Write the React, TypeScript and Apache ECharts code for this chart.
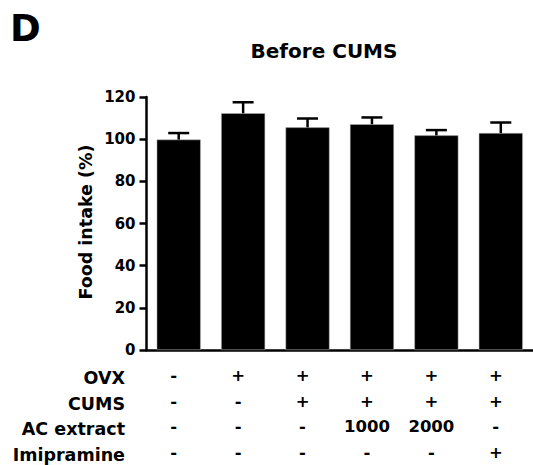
import React, { useEffect, useRef } from "react";
import * as echarts from "echarts";

const groups = ["G1", "G2", "G3", "G4", "G5", "G6"];
const means = [99.8, 112.3, 105.6, 107.1, 101.8, 102.9];
const sems = [3.1, 5.2, 4.2, 3.2, 2.5, 5.0];
const yTicks = [0, 20, 40, 60, 80, 100, 120];
const rowNames = ["OVX", "CUMS", "AC extract", "Imipramine"];
const ovx = ["-", "+", "+", "+", "+", "+"];
const cums = ["-", "-", "+", "+", "+", "+"];
const acExtract = ["-", "-", "-", "1000", "2000", "-"];
const imipramine = ["-", "-", "-", "-", "-", "+"];
const tableRows = [ovx, cums, acExtract, imipramine];

const FONT = "DejaVu Sans";

export default function App() {
  const ref = useRef<HTMLDivElement>(null);
  useEffect(() => {
    if (!ref.current) return;
    const chart = echarts.init(ref.current, null, { renderer: "svg" });
    const rowTop = 378;
    const rowGap = 25.5;
    chart.setOption({
      animation: false,
      backgroundColor: "#fff",
      grid: { left: 146.5, top: 97, width: 389, height: 255, containLabel: false },
      xAxis: {
        type: "category",
        data: groups,
        axisLine: { show: true, lineStyle: { color: "#000", width: 2.5 } },
        axisTick: { show: false },
        axisLabel: {
          interval: 0,
          margin: 13,
          color: "#000",
          fontFamily: FONT,
          fontWeight: "bold",
          fontSize: 16.5,
          lineHeight: rowGap,
          padding: [0, 10, 0, 0],
          formatter: (_v: string, idx: number) => tableRows.map((r) => r[idx]).join("\n"),
        },
      },
      yAxis: {
        type: "value",
        min: yTicks[0],
        max: yTicks[yTicks.length - 1],
        interval: 20,
        splitLine: { show: false },
        axisLine: { show: true, lineStyle: { color: "#000", width: 2.5 } },
        axisTick: { show: true, length: 7, lineStyle: { color: "#000", width: 2.5 } },
        axisLabel: {
          margin: 11,
          color: "#000",
          fontFamily: FONT,
          fontWeight: "bold",
          fontSize: 15,
        },
      },
      series: [
        {
          type: "bar",
          data: means,
          barWidth: 44,
          itemStyle: { color: "#000", borderColor: "#bbb", borderWidth: 0.5 },
          z: 2,
        },
        {
          type: "custom",
          z: 3,
          data: means.map((m, i) => [i, m, sems[i]]),
          encode: { x: 0, y: 1 },
          renderItem: (_params: any, api: any) => {
            const x = api.value(0);
            const m = api.value(1);
            const e = api.value(2);
            const base = api.coord([x, m]);
            const top = api.coord([x, m + e]);
            const half = 10.5;
            return {
              type: "group",
              children: [
                {
                  type: "line",
                  shape: { x1: top[0], y1: base[1], x2: top[0], y2: top[1] },
                  style: { stroke: "#000", lineWidth: 2.5 },
                },
                {
                  type: "line",
                  shape: { x1: top[0] - half, y1: top[1], x2: top[0] + half, y2: top[1] },
                  style: { stroke: "#000", lineWidth: 2.5 },
                },
              ],
            };
          },
        },
      ],
      graphic: [
        {
          type: "text",
          left: 10,
          top: 10,
          style: { text: "D", font: `bold 37px "${FONT}"`, fill: "#000" },
        },
        {
          type: "text",
          x: 324,
          y: 51,
          style: {
            text: "Before CUMS",
            font: `bold 20px "${FONT}"`,
            fill: "#000",
            align: "center",
            verticalAlign: "middle",
          },
        },
        {
          type: "text",
          x: 86,
          y: 222,
          rotation: Math.PI / 2,
          style: {
            text: "Food intake (%)",
            font: `bold 17.5px "${FONT}"`,
            fill: "#000",
            align: "center",
            verticalAlign: "middle",
          },
        },
        ...rowNames.map((name, i) => ({
          type: "text",
          x: 125,
          y: rowTop + i * rowGap,
          style: {
            text: name,
            font: `bold 17.5px "${FONT}"`,
            fill: "#000",
            align: "right",
            verticalAlign: "middle",
          },
        })),
      ],
    });
    return () => chart.dispose();
  }, []);
  return (
    <div
      ref={ref}
      style={{ position: "fixed", left: 0, top: 0, width: 533, height: 465, background: "#fff" }}
    />
  );
}
